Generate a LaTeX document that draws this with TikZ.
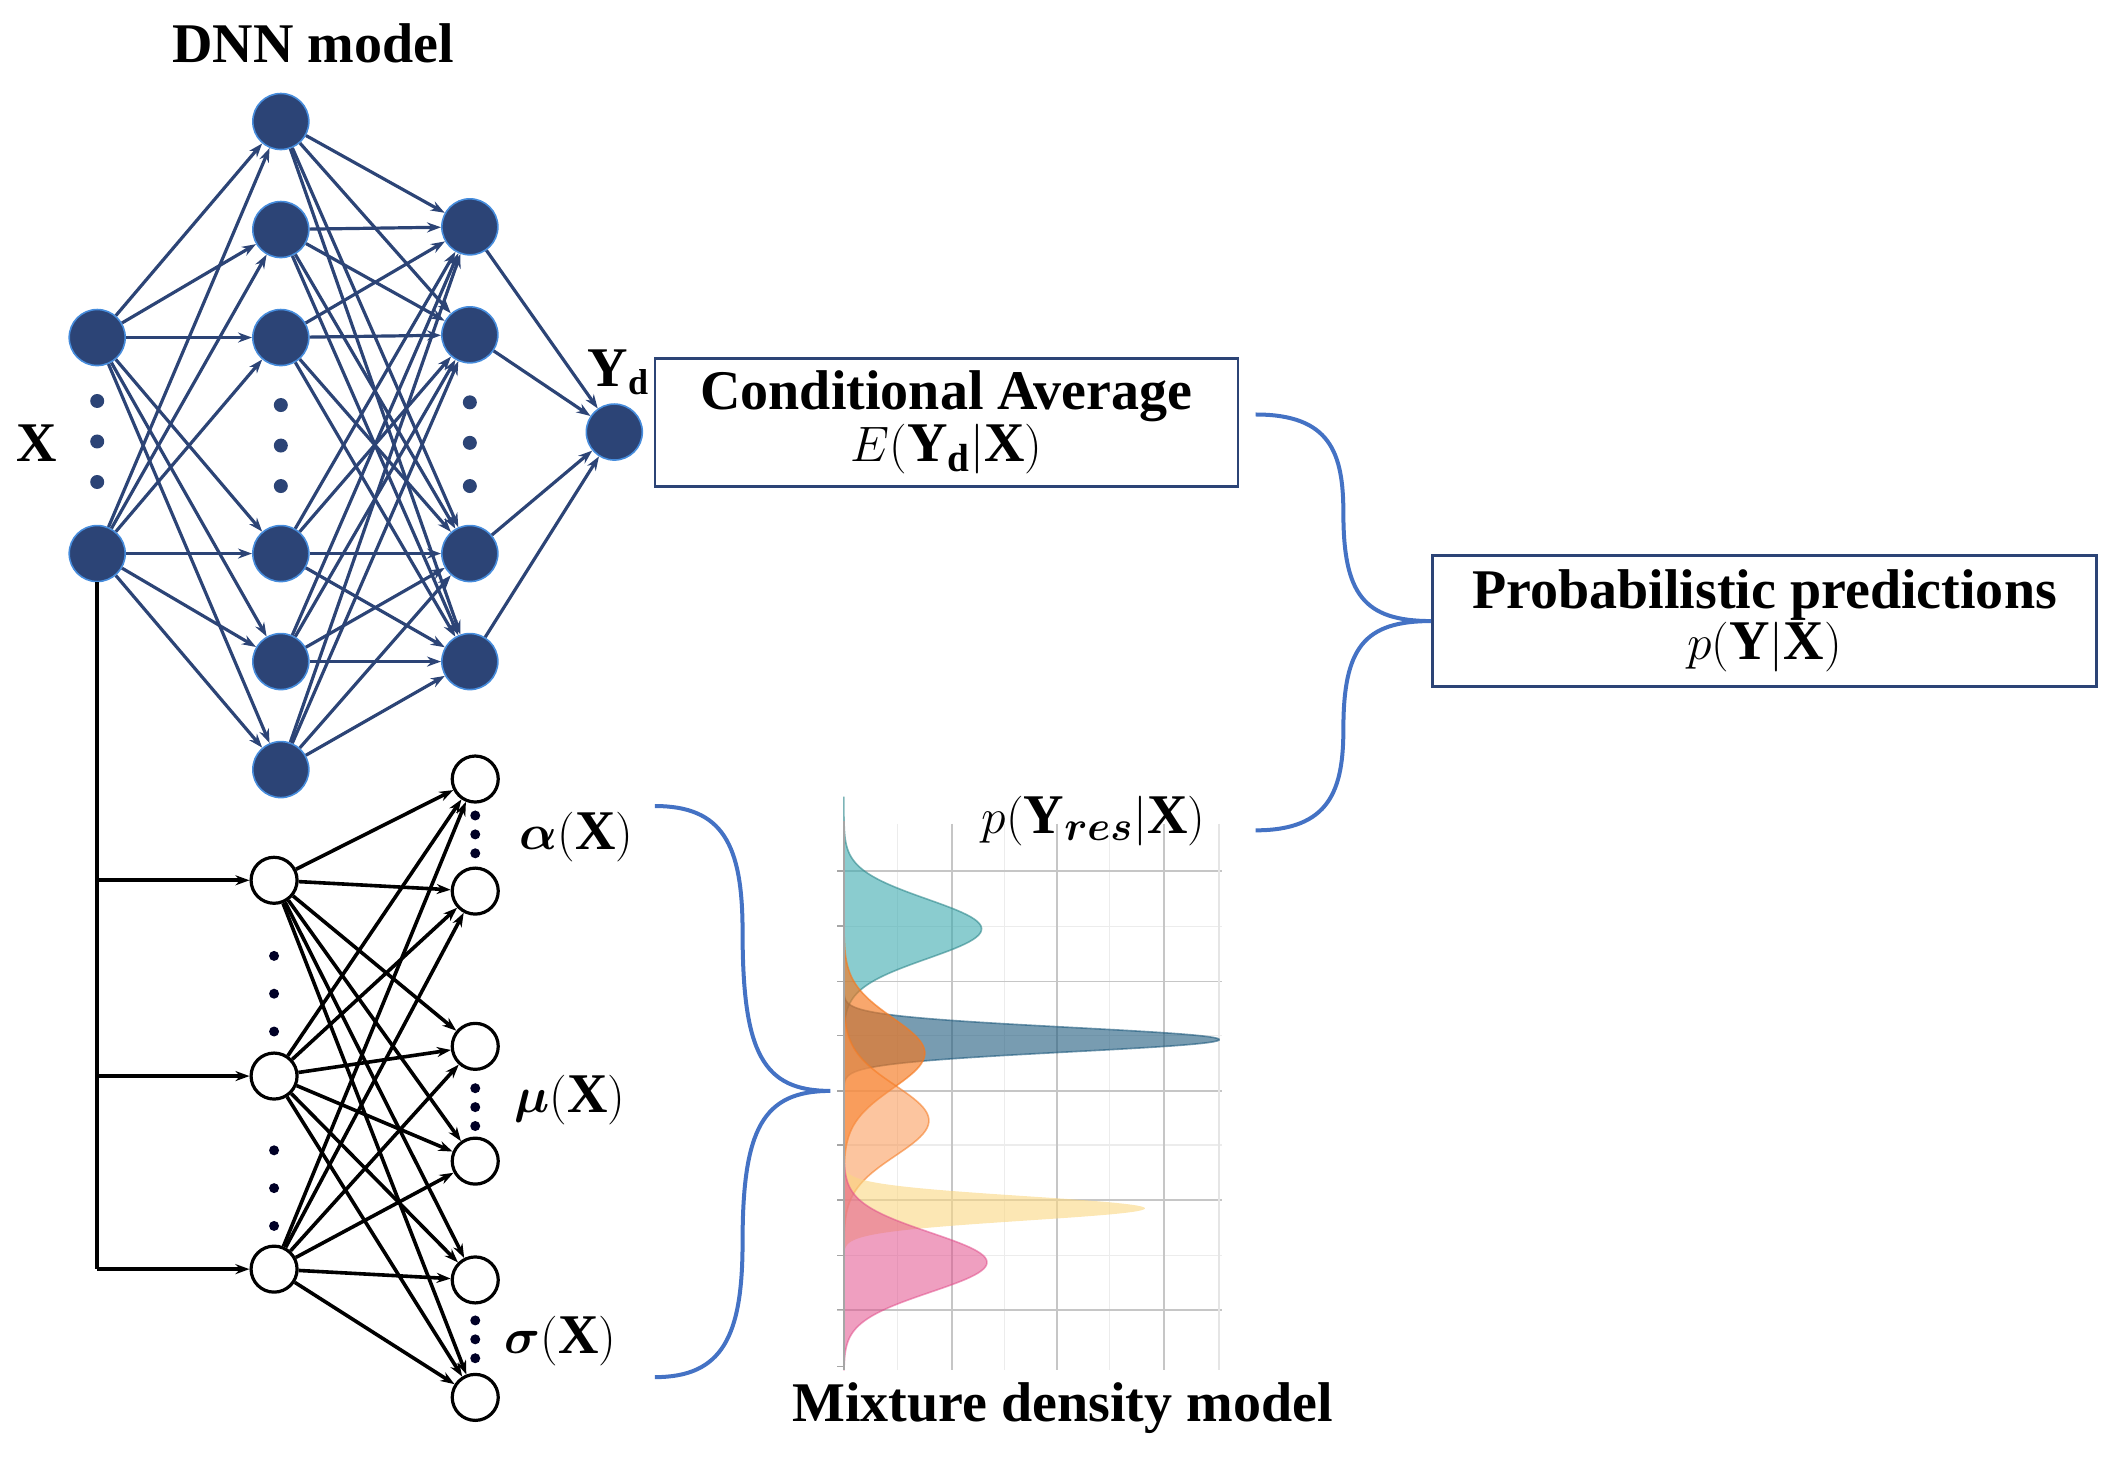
\documentclass[tikz,border=0pt]{standalone}
\usepackage{fontspec}
\setmainfont{Liberation Serif}
\usepackage{amsmath,bm}
\usetikzlibrary{arrows.meta}
\definecolor{navy}{RGB}{44,68,118}
\definecolor{lb}{RGB}{70,140,220}
\definecolor{brc}{RGB}{68,114,196}
\definecolor{c1}{RGB}{60,170,175}
\definecolor{c2}{RGB}{30,90,125}
\definecolor{c3}{RGB}{245,120,30}
\definecolor{c4}{RGB}{250,150,80}
\definecolor{c5}{RGB}{250,215,130}
\definecolor{c6}{RGB}{225,80,140}
\begin{document}
\begin{tikzpicture}[x=0.675pt,y=-0.675pt,
  dn/.style={circle,fill=navy,draw=lb,line width=0.8pt,minimum size=28pt,inner sep=0},
  wn/.style={circle,fill=white,draw=black,line width=1.6pt,minimum size=23pt,inner sep=0},
  ne/.style={navy,line width=1.6pt,-{Stealth[length=7pt,width=5pt]}},
  be/.style={black,line width=1.8pt,-{Stealth[length=7pt,width=5pt]}},
  dt/.style={circle,fill=navy,inner sep=0,minimum size=7pt},
  bdt/.style={circle,fill=black!85!blue,inner sep=0,minimum size=5pt},
  lab/.style={font=\fontsize{28}{30}\selectfont\bfseries},
  box/.style={draw=navy,line width=1.3pt,fill=white,align=center,inner sep=0},
  brace/.style={brc,line width=2pt}]
\useasboundingbox (0,0) rectangle (1568,1080);
% DNN nodes
\node[dn] (i1) at (72,250) {};
\node[dn] (i2) at (72,410) {};
\foreach \y [count=\k] in {90,170,250,410,490,570} \node[dn] (h\k) at (208,\y) {};
\foreach \y [count=\k] in {168,248,410,490} \node[dn] (g\k) at (348,\y) {};
\node[dn] (o) at (455,320) {};
\foreach \y in {297,327,357} \node[dt] at (72,\y) {};
\foreach \y in {300,330,360} \node[dt] at (208,\y) {};
\foreach \y in {298,328,360} \node[dt] at (348,\y) {};
\foreach \a in {1,2} \foreach \b in {1,...,6} \draw[ne] (i\a) -- (h\b);
\foreach \a in {1,...,6} \foreach \b in {1,...,4} \draw[ne] (h\a) -- (g\b);
\foreach \a in {1,...,4} \draw[ne] (g\a) -- (o);
\node[lab] (t1) at (232,32) {DNN model};
\node[lab] (tx) at (27,328) {X};
\node[lab] (ty) at (458,276) {Y\textsubscript{\fontsize{18}{18}\selectfont d}};
% MDN
\foreach \y [count=\k] in {652,797,940} \node[wn] (m\k) at (203,\y) {};
\foreach \y [count=\k] in {577,660,775,860,948,1035} \node[wn] (q\k) at (352,\y) {};
\coordinate (c1) at (72,652);
\coordinate (c2) at (72,797);
\coordinate (c3) at (72,940);
\draw[black,line width=1.8pt] (i2.south) -- (c3);
\foreach \k in {1,2,3} \draw[be] (c\k) -- (m\k);
\foreach \a in {1,2,3} \foreach \b in {1,...,6} \draw[be] (m\a) -- (q\b);
\foreach \y in {708,736,764,852,880,908} \node[bdt] at (203,\y) {};
\foreach \y in {604,618,632,806,820,834,978,992,1006} \node[bdt] at (352,\y) {};
\node[font=\fontsize{28}{30}\selectfont] (la) at (427,620) {$\bm{\alpha}(\mathbf{X})$};
\node[font=\fontsize{28}{30}\selectfont] (lm) at (422,815) {$\bm{\mu}(\mathbf{X})$};
\node[font=\fontsize{28}{30}\selectfont] (ls) at (415,993) {$\bm{\sigma}(\mathbf{X})$};
% chart
\foreach \y in {686,767,848,930} \draw[gray!15,line width=0.6pt] (625,\y) -- (905,\y);
\foreach \x in {665,744,822} \draw[gray!15,line width=0.6pt] (\x,610) -- (\x,1015);
\foreach \y in {645,727,808,889,970} \draw[gray!45,line width=0.9pt] (620,\y) -- (905,\y);
\foreach \x in {705,783,862} \draw[gray!45,line width=0.9pt] (\x,610) -- (\x,1015);
\draw[gray!20,line width=0.8pt] (903,610) -- (903,1015);
\fill[c1,opacity=.6,draw=c1!80!black,line width=0.8pt] plot[domain=590:790,samples=120] ({625+102*exp(-((\x-688)/22)^2/2)},\x);
\fill[c2,opacity=.6,draw=c2,line width=0.8pt] plot[domain=720:820,samples=160] ({625+278*exp(-((\x-770)/9)^2/2)},\x);
\fill[c3,opacity=.65,draw=c3,line width=0.8pt] plot[domain=650:910,samples=120] ({625+60*exp(-((\x-780)/26)^2/2)},\x);
\fill[c4,opacity=.55,draw=c3,line width=0.8pt] plot[domain=700:960,samples=120] ({625+63*exp(-((\x-830)/26)^2/2)},\x);
\fill[c5,opacity=.6] plot[domain=850:940,samples=160] ({625+223*exp(-((\x-895)/9)^2/2)},\x);
\fill[c6,opacity=.55,draw=c6,line width=0.8pt] plot[domain=840:1015,samples=120] ({625+106*exp(-((\x-935)/22)^2/2)},\x);
\draw[gray!70,line width=1pt] (625,608) -- (625,1015);
\foreach \y in {645,686,727,767,808,848,889,930,970,1012} \draw[gray!70,line width=0.8pt] (620,\y) -- (625,\y);
\node[font=\fontsize{28}{30}\selectfont] (lp) at (810,608) {$p(\mathbf{Y}_{\bm{res}}|\mathbf{X})$};
\node[lab] (tm) at (787,1043) {Mixture density model};
% boxes
\node[box,minimum width=432*0.675pt,minimum height=95*0.675pt] (b1) at (701,313)
  {\fontsize{28}{32}\selectfont\bfseries Conditional Average\\\fontsize{28}{32}\selectfont$E(\mathbf{Y}_{\mathbf{d}}|\mathbf{X})$};
\node[box,minimum width=492*0.675pt,minimum height=97*0.675pt] (b2) at (1307,460)
  {\fontsize{28}{32}\selectfont\bfseries Probabilistic predictions\\\fontsize{28}{32}\selectfont$p(\mathbf{Y}|\mathbf{X})$};
% braces
\coordinate (a1) at (930,307); \coordinate (a2) at (930,615);
\coordinate (a3) at (485,597); \coordinate (a4) at (485,1020);
\draw[brace] (a1) .. controls (985,307) and (995,335) .. (995,380)
  .. controls (995,440) and (1010,460) .. (b2.west)
  .. controls (1010,460) and (995,480) .. (995,540)
  .. controls (995,585) and (985,615) .. (a2);
\draw[brace] (a3) .. controls (535,597) and (550,625) .. (550,690)
  .. controls (550,780) and (565,808) .. (615,808)
  .. controls (565,808) and (550,836) .. (550,920)
  .. controls (550,990) and (535,1020) .. (a4);
\end{tikzpicture}
\end{document}
